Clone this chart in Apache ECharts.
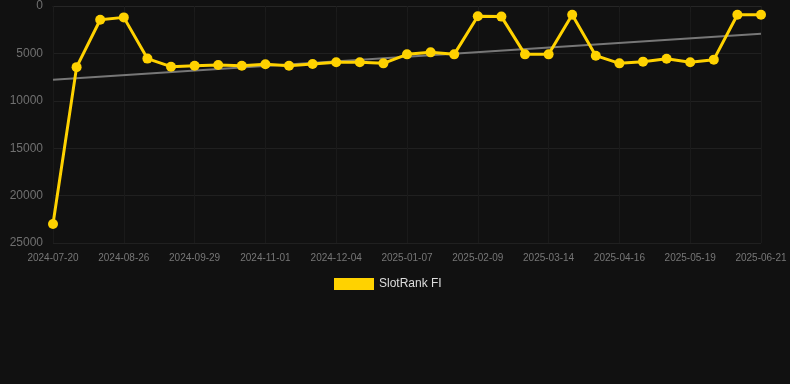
<!DOCTYPE html>
<html>
<head>
<meta charset="utf-8">
<script src="https://cdn.jsdelivr.net/npm/echarts@6/dist/echarts.min.js"></script>
<style>
  html, body { margin: 0; padding: 0; background: #111111; }
  #content { width: 790px; height: 384px; }
</style>
</head>
<body>
<div id="content"></div>
<script>
// 日期（类目轴）
var dates = [
    '2024-07-20', '2024-08-02', '2024-08-14', '2024-08-26', '2024-09-06', '2024-09-17',
    '2024-09-29', '2024-10-10', '2024-10-21', '2024-11-01', '2024-11-12', '2024-11-23',
    '2024-12-04', '2024-12-15', '2024-12-26', '2025-01-07', '2025-01-18', '2025-01-29',
    '2025-02-09', '2025-02-20', '2025-03-03', '2025-03-14', '2025-03-25', '2025-04-05',
    '2025-04-16', '2025-04-27', '2025-05-08', '2025-05-19', '2025-05-30', '2025-06-10',
    '2025-06-21'
];

// 排名数值
var ranks = [
    23000, 6450, 1450, 1200, 5550, 6400, 6300, 6220, 6300, 6150, 6300, 6120,
    5940, 5940, 6050, 5100, 4890, 5100, 1090, 1120, 5100, 5100, 920, 5240,
    6050, 5870, 5560, 5940, 5660, 920, 920
];

// 趋势线（只有首尾两点）
var trendStart = 7770;
var trendEnd = 2920;
var trend = dates.map(function (d, i) {
    if (i === 0) return trendStart;
    if (i === dates.length - 1) return trendEnd;
    return null;
});

var yTicks = { min: 0, max: 25000, interval: 5000 };

var chart = echarts.init(document.getElementById('content'));

var option = {
    backgroundColor: '#111111',
    animation: false,
    grid: { left: 53, right: 29, top: 6, bottom: 141, containLabel: false },
    legend: {
        data: ['SlotRank FI'],
        left: 329,
        top: 273,
        itemWidth: 40,
        itemHeight: 12,
        icon: 'rect',
        textStyle: { color: '#dddddd', fontSize: 12, fontFamily: 'Liberation Sans, Arial, sans-serif' }
    },
    xAxis: {
        type: 'category',
        data: dates,
        boundaryGap: false,
        axisLine: { lineStyle: { color: '#262626' } },
        axisTick: { show: true, interval: 2, length: 6, lineStyle: { color: '#1c1c1c' } },
        splitLine: { show: true, interval: 2, lineStyle: { color: '#1a1a1a' } },
        axisLabel: {
            interval: 2,
            color: '#777777',
            fontSize: 10,
            margin: 10,
            fontFamily: 'Liberation Sans, Arial, sans-serif'
        }
    },
    yAxis: {
        type: 'value',
        inverse: true,
        min: yTicks.min,
        max: yTicks.max,
        interval: yTicks.interval,
        axisLine: { show: false },
        axisTick: { show: false },
        splitLine: { lineStyle: { color: '#202020' } },
        axisLabel: {
            color: '#707070',
            fontSize: 12,
            margin: 10,
            fontFamily: 'Liberation Sans, Arial, sans-serif',
            formatter: function (v) { return String(v); }
        }
    },
    series: [
        {
            name: 'trend',
            type: 'line',
            data: trend,
            connectNulls: true,
            symbol: 'none',
            lineStyle: { color: '#777777', width: 2 },
            z: 1
        },
        {
            name: 'SlotRank FI',
            type: 'line',
            data: ranks,
            symbol: 'circle',
            symbolSize: 10,
            itemStyle: { color: '#FFD200' },
            lineStyle: { color: '#FFD200', width: 3 },
            z: 2
        }
    ]
};

chart.setOption(option);
</script>
</body>
</html>
